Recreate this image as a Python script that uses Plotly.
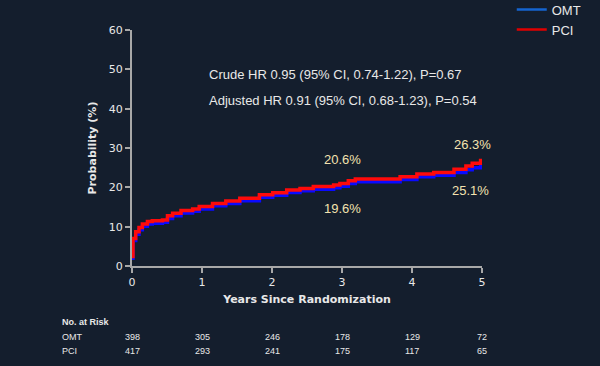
import plotly.graph_objects as go

# Kaplan-Meier style cumulative incidence
years_pci = [0, 0.014, 0.053, 0.10, 0.148, 0.22, 0.29, 0.435, 0.507, 0.58, 0.70, 0.866, 0.96,
             1.15, 1.34, 1.54, 1.82, 2.01, 2.21, 2.40, 2.59, 2.88, 2.97, 3.09, 3.19, 3.69,
             3.83, 4.07, 4.31, 4.60, 4.77, 4.86, 4.98, 5.0]
pci = [2.4, 7.0, 8.7, 9.8, 10.7, 11.3, 11.5, 11.7, 12.8, 13.4, 14.1, 14.5, 15.1,
       15.9, 16.5, 17.2, 18.1, 18.6, 19.3, 19.7, 20.2, 20.6, 21.0, 21.7, 22.1, 22.1,
       22.7, 23.4, 23.8, 24.6, 25.4, 26.1, 26.8, 26.8]

years_omt = [0, 0.014, 0.053, 0.10, 0.148, 0.22, 0.29, 0.435, 0.507, 0.58, 0.70, 0.866, 0.96,
             1.15, 1.34, 1.54, 1.82, 2.01, 2.21, 2.40, 2.59, 2.88, 2.97, 3.09, 3.19, 3.69,
             3.83, 4.07, 4.31, 4.60, 4.77, 4.86, 4.98, 5.0]
omt = [2.0, 6.5, 8.1, 9.2, 10.1, 10.7, 10.9, 11.1, 12.1, 12.8, 13.5, 13.9, 14.5,
       15.3, 15.9, 16.6, 17.5, 18.0, 18.7, 19.1, 19.5, 19.9, 20.3, 21.0, 21.4, 21.4,
       22.0, 22.7, 23.1, 23.8, 24.5, 25.0, 25.6, 25.6]

risk_years = [0, 1, 2, 3, 4, 5]
risk_omt = [398, 305, 246, 178, 129, 72]
risk_pci = [417, 293, 241, 175, 117, 65]

y_ticks = [0, 10, 20, 30, 40, 50, 60]

stats_lines = ["Crude HR 0.95 (95% CI, 0.74-1.22), P=0.67",
               "Adjusted HR 0.91 (95% CI, 0.68-1.23), P=0.54"]
stats_y = [48.6, 42.2]

pct_labels = [
    (3.0, 27.0, "20.6%"),
    (3.0, 14.7, "19.6%"),
    (4.86, 30.8, "26.3%"),
    (4.84, 19.1, "25.1%"),
]

BG = "#141e2d"
AXIS = "#a8a8a8"
TXT = "#e8e8e8"
LBL = "#f3e3b0"

fig = go.Figure()
fig.add_trace(go.Scatter(x=years_omt, y=omt, mode="lines", line=dict(color="#0a0aff", width=3.5, shape="hv"),
                         showlegend=False, name="OMT"))
fig.add_trace(go.Scatter(x=years_pci, y=pci, mode="lines", line=dict(color="#ff0a0a", width=3.5, shape="hv"),
                         showlegend=False, name="PCI"))
# legend entries
fig.add_trace(go.Scatter(x=[None], y=[None], mode="lines", line=dict(color="#1565d0", width=2.5), name="OMT"))
fig.add_trace(go.Scatter(x=[None], y=[None], mode="lines", line=dict(color="#e00000", width=2.5), name="PCI"))

font_main = "Liberation Sans, Arial, sans-serif"

annotations = []
for s, yv in zip(stats_lines, stats_y):
    annotations.append(dict(x=1.07, y=yv, xref="x", yref="y", text=s, showarrow=False,
                            xanchor="left", yanchor="middle", font=dict(family=font_main, size=13, color=TXT)))
for (x, y, t) in pct_labels:
    annotations.append(dict(x=x, y=y, xref="x", yref="y", text=t, showarrow=False,
                            xanchor="center", yanchor="middle", font=dict(family=font_main, size=13, color=LBL)))

annotations.append(dict(x=-0.206, xref="paper", y=-0.237, yref="paper", text="<b>No. at Risk</b>", showarrow=False,
                        xanchor="left", yanchor="middle", font=dict(family=font_main, size=9, color=TXT)))
for row, (nm, vals) in enumerate([("OMT", risk_omt), ("PCI", risk_pci)]):
    yy = [-0.301, -0.360][row]
    annotations.append(dict(x=-0.206, xref="paper", y=yy, yref="paper", text=nm, showarrow=False,
                            xanchor="left", yanchor="middle", font=dict(family=font_main, size=9, color=TXT)))
    for xv, v in zip(risk_years, vals):
        annotations.append(dict(x=xv, xref="x", y=yy, yref="paper", text=str(v), showarrow=False,
                                xanchor="center", yanchor="middle", font=dict(family=font_main, size=9, color=TXT)))

fig.update_layout(
    width=600, height=366,
    paper_bgcolor=BG, plot_bgcolor=BG,
    margin=dict(l=132, r=118, t=30, b=100, autoexpand=False),
    font=dict(family=font_main, color=TXT),
    legend=dict(x=1.085, y=1.15, xanchor="left", yanchor="top", bgcolor="rgba(0,0,0,0)",
                font=dict(size=13, color=TXT), itemwidth=30, tracegroupgap=0),
    annotations=annotations,
)
fig.update_xaxes(range=[0, 5], tickvals=risk_years, showgrid=False, zeroline=False, automargin=False,
                 showline=True, linecolor=AXIS, linewidth=2, ticks="outside", tickcolor=AXIS,
                 ticklen=5, tickwidth=1.5, tickfont=dict(family="DejaVu Sans", size=11, color=TXT),
                 title=dict(text="<b>Years Since Randomization</b>", standoff=7,
                            font=dict(family="DejaVu Sans", size=11, color=TXT)))
fig.update_yaxes(range=[0, 60], tickvals=y_ticks, showgrid=False, zeroline=False, automargin=False,
                 showline=True, linecolor=AXIS, linewidth=2, ticks="outside", tickcolor=AXIS,
                 ticklen=5, tickwidth=1.5, tickfont=dict(family="DejaVu Sans", size=11, color=TXT),
                 title=dict(text="<b>Probability (%)</b>", standoff=10,
                            font=dict(family="DejaVu Sans", size=11, color=TXT)))

fig.write_html("out.html", config={"displayModeBar": False},
               post_script="document.body.style.margin='0';document.body.style.background='#141e2d';")
